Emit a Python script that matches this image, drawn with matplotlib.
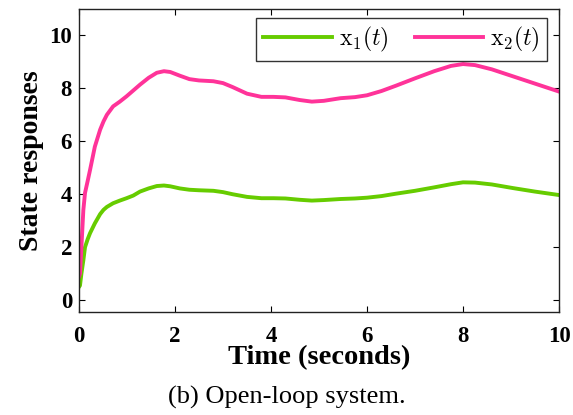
import matplotlib
matplotlib.use("Agg")
import matplotlib.pyplot as plt
import numpy as np

# sampled state trajectories (time in seconds)
t = [0.0, 0.02, 0.05, 0.09, 0.125, 0.18, 0.23, 0.33, 0.44, 0.51, 0.58, 0.71, 0.85, 0.99,
     1.13, 1.27, 1.45, 1.62, 1.77, 1.9, 2.1, 2.3, 2.5, 2.8, 3.0, 3.2, 3.5, 3.8, 4.05,
     4.3, 4.6, 4.85, 5.1, 5.45, 5.75, 6.0, 6.3, 6.6, 7.0, 7.4, 7.75, 8.0, 8.25, 8.6,
     9.05, 9.5, 10.0]
x1 = [0.5, 0.55, 1.0, 1.5, 2.0, 2.3, 2.53, 2.9, 3.25, 3.41, 3.52, 3.66, 3.76, 3.85,
      3.95, 4.1, 4.22, 4.31, 4.33, 4.3, 4.22, 4.17, 4.15, 4.13, 4.08, 4.0, 3.9, 3.85, 3.85,
      3.84, 3.79, 3.76, 3.78, 3.82, 3.84, 3.87, 3.93, 4.02, 4.13, 4.26, 4.38, 4.45, 4.44,
      4.37, 4.23, 4.1, 3.97]
x2 = [0.9, 1.0, 2.0, 3.4, 4.05, 4.5, 4.92, 5.8, 6.44, 6.75, 7.0, 7.32, 7.5, 7.7,
      7.92, 8.14, 8.4, 8.59, 8.65, 8.62, 8.48, 8.35, 8.3, 8.27, 8.2, 8.05, 7.8, 7.68, 7.68,
      7.66, 7.56, 7.5, 7.53, 7.63, 7.67, 7.74, 7.9, 8.1, 8.38, 8.65, 8.85, 8.92, 8.88,
      8.72, 8.45, 8.18, 7.88]

plt.rcParams['font.family'] = ['Liberation Serif', 'DejaVu Serif']
plt.rcParams['mathtext.fontset'] = 'cm'

fig = plt.figure(figsize=(5.73, 4.15), dpi=100)
ax = fig.add_axes([0.1379, 0.2482, 0.8377, 0.7301])

ax.plot(t, x1, color='#66cc00', lw=2.8, label=r'$\mathrm{x}_1(t)$')
ax.plot(t, x2, color='#ff3399', lw=2.8, label=r'$\mathrm{x}_2(t)$')

ax.set_xlim(0, 10)
ax.set_ylim(-0.45, 11)
ax.set_xticks([0, 2, 4, 6, 8, 10])
ax.set_yticks([0, 2, 4, 6, 8, 10])
ax.tick_params(direction='in', top=True, right=True, length=4, width=0.8,
               labelsize=16.5, pad=5)
ax.tick_params(axis='x', pad=10)
for lab in ax.get_xticklabels() + ax.get_yticklabels():
    lab.set_fontweight('bold')
for sp in ax.spines.values():
    sp.set_linewidth(1.0)
    sp.set_color('#222222')

ax.set_xlabel('Time (seconds)', fontsize=20.5, fontweight='bold', labelpad=-1)
ax.set_ylabel('State responses', fontsize=20, fontweight='bold', labelpad=4)

leg = ax.legend(loc='upper right', ncol=2, fontsize=17, frameon=True, fancybox=False,
                handlelength=2.9, handletextpad=0.3, columnspacing=1.1,
                borderpad=0.3, borderaxespad=0,
                bbox_to_anchor=(0.975, 0.97))
leg.get_frame().set_edgecolor('black')
leg.get_frame().set_linewidth(1.0)

fig.text(0.5, 1 - 397 / 415, '(b) Open-loop system.', ha='center', va='center',
         fontsize=19)

fig.savefig('out.png', dpi=100)
